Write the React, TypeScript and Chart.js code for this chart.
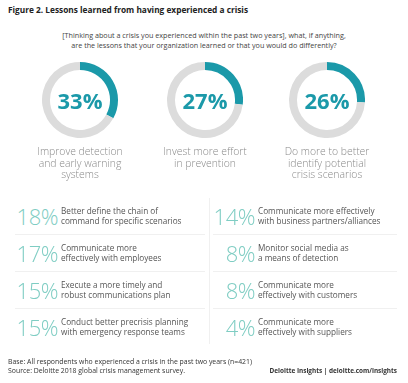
import React, { useEffect, useRef } from "react";
import { Chart, registerables } from "chart.js";

Chart.register(...registerables);

const donutValues = [33, 27, 26];
const donutLabels = [
  ["Improve detection", "and early warning", "systems"],
  ["Invest more effort", "in prevention"],
  ["Do more to better", "identify potential", "crisis scenarios"],
];
const leftValues = [18, 17, 15, 15];
const leftLabels = [
  ["Better define the chain of", "command for specific scenarios"],
  ["Communicate more", "effectively with employees"],
  ["Execute a more timely and", "robust communications plan"],
  ["Conduct better precrisis planning", "with emergency response teams"],
];
const rightValues = [14, 8, 8, 4];
const rightLabels = [
  ["Communicate more effectively", "with business partners/alliances"],
  ["Monitor social media as", "a means of detection"],
  ["Communicate more", "effectively with customers"],
  ["Communicate more", "effectively with suppliers"],
];

const TEAL = "#1b99a9";
const GRAY = "#dcdcdc";
const MINT = "#7fcdc3";
const FONT = "'Open Sans', sans-serif";

const donutCx = [80, 205, 327];
const donutCy = 100;
const donutSize = 76;
const rowCy = [216, 253, 290, 327];

function Donut({ value }: { value: number }) {
  const ref = useRef<HTMLCanvasElement>(null);
  useEffect(() => {
    if (!ref.current) return;
    const chart = new Chart(ref.current, {
      type: "doughnut",
      data: {
        labels: ["yes", "rest"],
        datasets: [
          {
            data: [value, 100 - value],
            backgroundColor: [TEAL, GRAY],
            borderWidth: 0,
          },
        ],
      },
      options: {
        responsive: false,
        animation: false,
        cutout: "79%",
        plugins: { legend: { display: false }, tooltip: { enabled: false } },
        events: [],
      },
    });
    return () => chart.destroy();
  }, [value]);
  return <canvas ref={ref} width={donutSize} height={donutSize} style={{ display: "block" }} />;
}

export default function App() {
  const abs = (s: React.CSSProperties): React.CSSProperties => ({ position: "absolute", ...s });
  return (
    <div style={abs({ left: 0, top: 0, width: 408, height: 383, background: "#fff", fontFamily: FONT, overflow: "hidden" })}>
      <div style={abs({ left: 8, top: 4, fontSize: 8.3, fontWeight: 700, color: "#222", whiteSpace: "nowrap", lineHeight: "12px" })}>
        Figure 2. Lessons learned from having experienced a crisis
      </div>
      <div style={abs({ left: 0, width: 408, top: 30, fontSize: 7.2, color: "#444", textAlign: "center", lineHeight: "10px", whiteSpace: "pre" })}>
        {"[Thinking about a crisis you experienced within the past two years], what, if anything,\nare the lessons that your organization learned or that you would do differently?"}
      </div>
      {donutValues.map((v, i) => (
        <React.Fragment key={"d" + i}>
          <div style={abs({ left: donutCx[i] - donutSize / 2, top: donutCy - donutSize / 2 })}>
            <Donut value={v} />
          </div>
          <div style={abs({ left: donutCx[i] - 40, width: 80, top: donutCy - 15, textAlign: "center", fontSize: 22, fontWeight: 700, color: TEAL, lineHeight: "30px" })}>
            {v}%
          </div>
          <div style={abs({ left: donutCx[i] - 60, width: 120, top: 146, textAlign: "center", fontSize: 10.4, fontWeight: 300, color: "#8a8a8a", lineHeight: "11.5px", whiteSpace: "pre" })}>
            {donutLabels[i].join("\n")}
          </div>
        </React.Fragment>
      ))}
      {[234, 271, 308].map((y) => (
        <React.Fragment key={"h" + y}>
          <div style={abs({ left: 15, width: 190, top: y, height: 1, background: "#f0f0f0" })} />
          <div style={abs({ left: 213, width: 184, top: y, height: 1, background: "#f0f0f0" })} />
        </React.Fragment>
      ))}
      <div style={abs({ left: 209, width: 1, top: 198, height: 146, background: "#f0f0f0" })} />
      {[{ vals: leftValues, labs: leftLabels, edge: 58 }, { vals: rightValues, labs: rightLabels, edge: 255 }].map((col, c) =>
        col.vals.map((v, r) => (
          <React.Fragment key={"r" + c + r}>
            <div style={abs({ left: col.edge - 60, width: 60, top: rowCy[r] - 15, textAlign: "right", fontSize: 22, fontWeight: 300, color: MINT, lineHeight: "30px", letterSpacing: -0.5 })}>
              {v}%
            </div>
            <div style={abs({ left: col.edge + 3, top: rowCy[r] - 9.6, fontSize: 8.2, color: "#555", lineHeight: "9.3px", whiteSpace: "pre" })}>
              {col.labs[r].join("\n")}
            </div>
          </React.Fragment>
        ))
      )}
      <div style={abs({ left: 8, top: 358, fontSize: 6.9, color: "#333", lineHeight: "8.5px", whiteSpace: "pre" })}>
        {"Base: All respondents who experienced a crisis in the past two years (n=421)\nSource: Deloitte 2018 global crisis management survey."}
      </div>
      <div style={abs({ right: 11, top: 367, fontSize: 6.4, fontWeight: 700, color: "#333", lineHeight: "8px", whiteSpace: "nowrap" })}>
        Deloitte Insights | deloitte.com/insights
      </div>
    </div>
  );
}
